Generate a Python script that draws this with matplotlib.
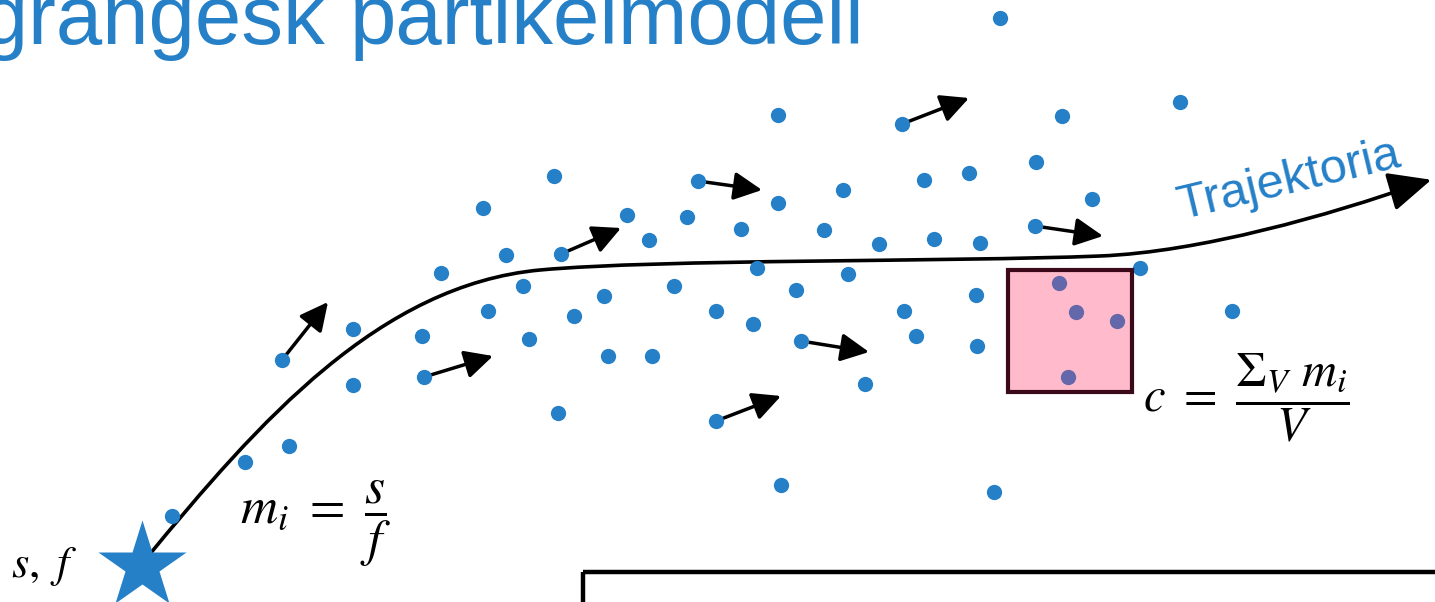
import matplotlib
matplotlib.use("Agg")
import matplotlib.pyplot as plt
from matplotlib.path import Path
from matplotlib.patches import PathPatch, Rectangle

plt.rcParams['mathtext.fontset'] = 'stix'

BLUE = '#2580C8'
PURPLE = '#6467A9'

# particle positions (pixel coords of the slide)
dots_x = [1000, 778, 1180, 1062, 902, 1036, 969, 924, 843, 778, 698, 554, 1092,
          483, 627, 687, 741, 824, 879, 934, 980, 1035, 649, 561, 506,
          441, 523, 604, 674, 757, 796, 848, 1140, 976,
          488, 574, 716, 753, 904, 1232,
          353, 422, 529, 801, 916, 977,
          282, 608, 652, 353, 424, 865,
          558, 716, 289, 245, 172, 781, 994]
dots_y = [18, 115, 102, 116, 124, 162, 173, 180, 190, 203, 181, 176, 199,
          208, 215, 217, 229, 230, 244, 239, 243, 226, 240, 254, 255,
          273, 286, 296, 286, 268, 290, 274, 268, 295,
          311, 316, 311, 324, 311, 311,
          329, 336, 339, 341, 336, 346,
          360, 356, 356, 385, 377, 384,
          413, 421, 446, 462, 516, 485, 492]

# particles inside the sampling volume
box_dots_x = [1059, 1076, 1117, 1068]
box_dots_y = [283, 312, 321, 377]

# velocity arrows: start and end points
arrow_start = [(282, 360), (424, 377), (561, 254), (698, 181),
               (902, 124), (801, 341), (716, 421), (1035, 226)]
arrow_end = [(328, 302), (493, 356), (621, 228), (762, 190),
             (969, 98), (869, 352), (781, 396), (1103, 236)]

# trajectory as cubic bezier
traj_verts = [(145, 560), (260, 420), (380, 285), (540, 270),
              (660, 259), (950, 262), (1100, 256),
              (1200, 252), (1330, 215), (1418, 184)]
traj_codes = [Path.MOVETO] + [Path.CURVE4] * 9

fig = plt.figure(figsize=(14.35, 6.02), dpi=100)
ax = fig.add_axes([0, 0, 1, 1])
ax.set_xlim(0, 1435)
ax.set_ylim(602, 0)
ax.axis('off')

# title (partly outside the slide)
ax.text(325, 44, 'Lagrangesk', fontsize=60, color=BLUE, family='Liberation Sans',
        ha='right', va='baseline')
ax.text(350, 44, 'partikelmodell', fontsize=60, color=BLUE, family='Liberation Sans',
        ha='left', va='baseline')

# trajectory
ax.add_patch(PathPatch(Path(traj_verts, traj_codes), fill=False, lw=2.6,
                       edgecolor='black', zorder=2))
ax.annotate('', xy=(1434, 179), xytext=(1410, 186),
            arrowprops=dict(arrowstyle='-|>,head_length=1.2,head_width=0.55',
                            mutation_scale=22, color='black', lw=2.6))
ax.text(1182, 219, 'Trajektoria', fontsize=35, color=BLUE, family='Liberation Sans',
        rotation=13.5, rotation_mode='anchor', ha='left', va='baseline')

# velocity arrows
for s, e in zip(arrow_start, arrow_end):
    ax.annotate('', xy=e, xytext=s,
                arrowprops=dict(arrowstyle='-|>,head_length=0.9,head_width=0.45',
                                mutation_scale=19, color='black', lw=2.5,
                                shrinkA=0, shrinkB=0), zorder=3)

ax.plot(dots_x, dots_y, 'o', color=BLUE, markersize=11, mec='none', zorder=4)

# sampling volume
ax.add_patch(Rectangle((1008, 270), 124, 122, facecolor='#FFBACB',
                       edgecolor='#3a0a1a', lw=3, zorder=5))
ax.plot(box_dots_x, box_dots_y, 'o', color=PURPLE, markersize=11, mec='none', zorder=6)

# source
ax.plot([142], [566], marker='*', color=BLUE, markersize=66, mec='none', zorder=4)
ax.text(11, 577, r'$s,\ f$', fontsize=32, ha='left', va='baseline')

# formulas
ax.text(240, 524, r'$m_i\ =\ \dfrac{s}{f}$', fontsize=37, ha='left', va='baseline')
ax.text(1143, 412, r'$c\ =\ \dfrac{\Sigma_V\ m_i}{V}$', fontsize=35, ha='left',
        va='baseline')

# lower frame (continues off the slide)
ax.add_patch(Rectangle((583, 572), 1200, 300, fill=False, edgecolor='black',
                       lw=3.2, zorder=2))

fig.savefig('out.png', dpi=100)
